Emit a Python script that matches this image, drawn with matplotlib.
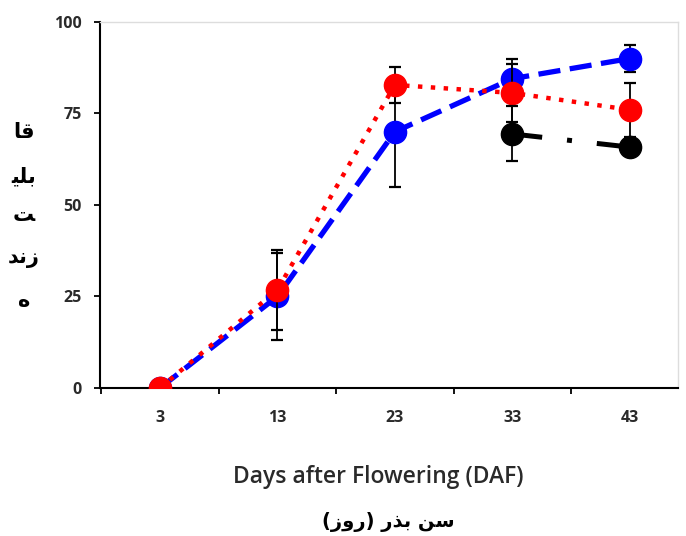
import numpy as np
import matplotlib.pyplot as plt
from matplotlib.ticker import FixedLocator

days = ["3", "13", "23", "33", "43"]
blue_vals = [0, 25, 70, 84.5, 90]
blue_err = [0, 12, 15, 5.5, 3.7]
red_vals = [0, 26.8, 82.8, 80.6, 76]
red_err = [0, 11, 5, 8, 7.3]
black_vals = [np.nan, np.nan, np.nan, 69.4, 65.8]
black_err = [0, 0, 0, 7.5, 1]

# Persian labels written in presentation forms, visual order
ylabel_lines = ["\uFE8E\uFED7", "\uFEF4\uFEE0\uFE91", "\uFE96", "\uFEAA\uFEE7\uFEAF", "\uFEE9"]
xlabel_fa = "(\uFEAF\uFEED\uFEAD) \uFEAD\uFEAC\uFE91 \uFEE6\uFEB3"
xlabel_en = "Days after Flowering (DAF)"

x = np.arange(len(days))

fig = plt.figure(figsize=(6.86, 5.36), dpi=100)
ax = fig.add_axes([0.1458, 0.2761, 0.8425, 0.683])

common = dict(marker="o", ms=16, ecolor="black", elinewidth=1.3, capsize=4, capthick=1.6)
ax.errorbar(x, blue_vals, yerr=blue_err, color="#0000ff", ls=(0, (4.2, 1.8)), lw=3.8,
            zorder=2, **common)
ax.errorbar(x, red_vals, yerr=red_err, color="#ff0000", ls=(0, (1.0, 1.9)), lw=3.2,
            zorder=3, **common)
ax.errorbar(x, black_vals, yerr=black_err, color="black", ls=(0, (6, 5, 1, 5)), lw=3.6,
            zorder=4, **common)

ax.set_xlim(-0.51, 4.41)
ax.set_ylim(0, 100)
ax.set_yticks([0, 25, 50, 75, 100])
ax.set_xticks(x)
ax.set_xticklabels(days)
ax.xaxis.set_minor_locator(FixedLocator(np.arange(-0.5, 4.6, 1)))
ax.tick_params(axis="x", which="major", length=0, pad=16)
ax.tick_params(axis="x", which="minor", length=4, width=1.3, direction="out")
ax.tick_params(axis="y", length=4, width=1.3, direction="out", pad=9)
for lab in ax.get_xticklabels() + ax.get_yticklabels():
    lab.set_fontfamily("Open Sans")
    lab.set_fontweight("bold")
    lab.set_fontsize(11.5)
    lab.set_color("#2a2a2a")

for side in ["left", "bottom"]:
    ax.spines[side].set_linewidth(1.5)
for side in ["top", "right"]:
    ax.spines[side].set_color("#dddddd")
    ax.spines[side].set_linewidth(1)

fig.text(378 / 686, 1 - 483 / 536, xlabel_en, ha="center", va="baseline",
         fontsize=16.5, family="Open Sans", fontweight="semibold", color="#2a2a2a")
fig.text(388 / 686, 1 - 522 / 536, xlabel_fa, ha="center", va="center",
         fontsize=14, family="DejaVu Sans", fontweight="bold")

ys = [132, 176, 215, 258, 300]
for line, yy in zip(ylabel_lines, ys):
    fig.text(24 / 686, 1 - yy / 536, line, ha="center", va="center",
             fontsize=15, family="DejaVu Sans", fontweight="bold")

fig.savefig("out.png", dpi=100)
